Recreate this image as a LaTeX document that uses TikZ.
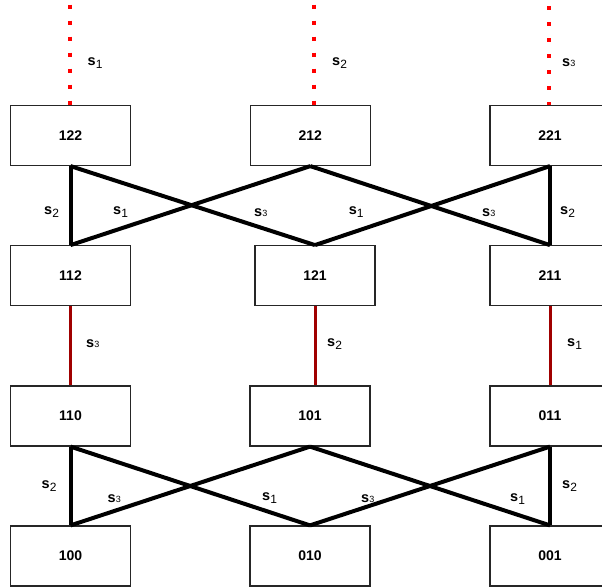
\documentclass[tikz,border=0pt]{standalone}
\usepackage{fontspec}
\setmainfont{Liberation Sans}
\definecolor{dotred}{RGB}{255,0,0}
\definecolor{darkred}{RGB}{160,0,0}
\newcommand{\slab}[1]{{\fontsize{14.5}{16}\selectfont\textbf{s}}\raisebox{-3pt}{\fontsize{12}{12}\selectfont #1}}
\newcommand{\slabb}[1]{{\fontsize{14.5}{16}\selectfont\textbf{s}}{\fontsize{9}{9}\selectfont #1}}
\tikzset{
    state/.style={draw=black!85, line width=1.2pt, minimum width=120pt, minimum height=60pt, font=\fontsize{14}{16}\selectfont\bfseries},
    swapline/.style={line width=4pt, black},
    redline/.style={line width=3pt, darkred},
    dotline/.style={line width=4pt, dotred, dash pattern=on 4pt off 12pt},
    lab/.style={anchor=west}
}
\begin{document}
\begin{tikzpicture}[x=1pt,y=-1pt]
    \tikzstyle{every node}+=[inner sep=0pt]
    \useasboundingbox (0,0) rectangle (602,588);
    % states
    \node [state] (n122) at (70.5,135.5) {122};
    \node [state] (n212) at (310.3,135.5) {212};
    \node [state] (n221) at (550,135.5) {221};
    \node [state] (n112) at (70.5,275.7) {112};
    \node [state] (n121) at (315,275.7) {121};
    \node [state] (n211) at (550,275.7) {211};
    \node [state] (n110) at (70.5,416) {110};
    \node [state] (n101) at (310,416) {101};
    \node [state] (n011) at (550,416) {011};
    \node [state] (n100) at (70.5,556) {100};
    \node [state] (n010) at (310,556) {010};
    \node [state] (n001) at (550,556) {001};
    % incoming dotted lines
    \coordinate (top1) at (70,4.7);
    \coordinate (top2) at (314,4.7);
    \coordinate (top3) at (549.3,6.5);
    \draw [dotline] (top1) -- (top1 |- n122.north);
    \draw [dotline] (top2) -- (top2 |- n212.north);
    \draw [dotline] (top3) -- (top3 |- n221.north);
    \node [lab] at (87.5,63) {\slab{1}};
    \node [lab] at (332,63) {\slab{2}};
    \node [lab] at (562,63) {\slabb{3}};
    % first layer
    \draw [swapline] (n122.south) -- (n112.north);
    \draw [swapline] (n122.south) -- (n121.north);
    \draw [swapline] (n212.south) -- (n112.north);
    \draw [swapline] (n212.south) -- (n211.north);
    \draw [swapline] (n221.south) -- (n121.north);
    \draw [swapline] (n221.south) -- (n211.north);
    \node [lab] at (44,212) {\slab{2}};
    \node [lab] at (113,212) {\slab{1}};
    \node [lab] at (254,213) {\slabb{3}};
    \node [lab] at (348.6,212) {\slab{1}};
    \node [lab] at (482,213) {\slabb{3}};
    \node [lab] at (560,212) {\slab{2}};
    % middle layer
    \draw [redline] (n112.south) -- (n110.north);
    \draw [redline] (n121.south) -- (n121.south |- n101.north);
    \draw [redline] (n211.south) -- (n011.north);
    \node [lab] at (86,344) {\slabb{3}};
    \node [lab] at (327,344) {\slab{2}};
    \node [lab] at (567,344) {\slab{1}};
    % last layer
    \draw [swapline] (n110.south) -- (n100.north);
    \draw [swapline] (n110.south) -- (n010.north);
    \draw [swapline] (n101.south) -- (n100.north);
    \draw [swapline] (n101.south) -- (n001.north);
    \draw [swapline] (n011.south) -- (n010.north);
    \draw [swapline] (n011.south) -- (n001.north);
    \node [lab] at (41.5,486) {\slab{2}};
    \node [lab] at (107.5,499) {\slabb{3}};
    \node [lab] at (262,498) {\slab{1}};
    \node [lab] at (361,499) {\slabb{3}};
    \node [lab] at (510,499) {\slab{1}};
    \node [lab] at (562,486) {\slab{2}};
\end{tikzpicture}
\end{document}
